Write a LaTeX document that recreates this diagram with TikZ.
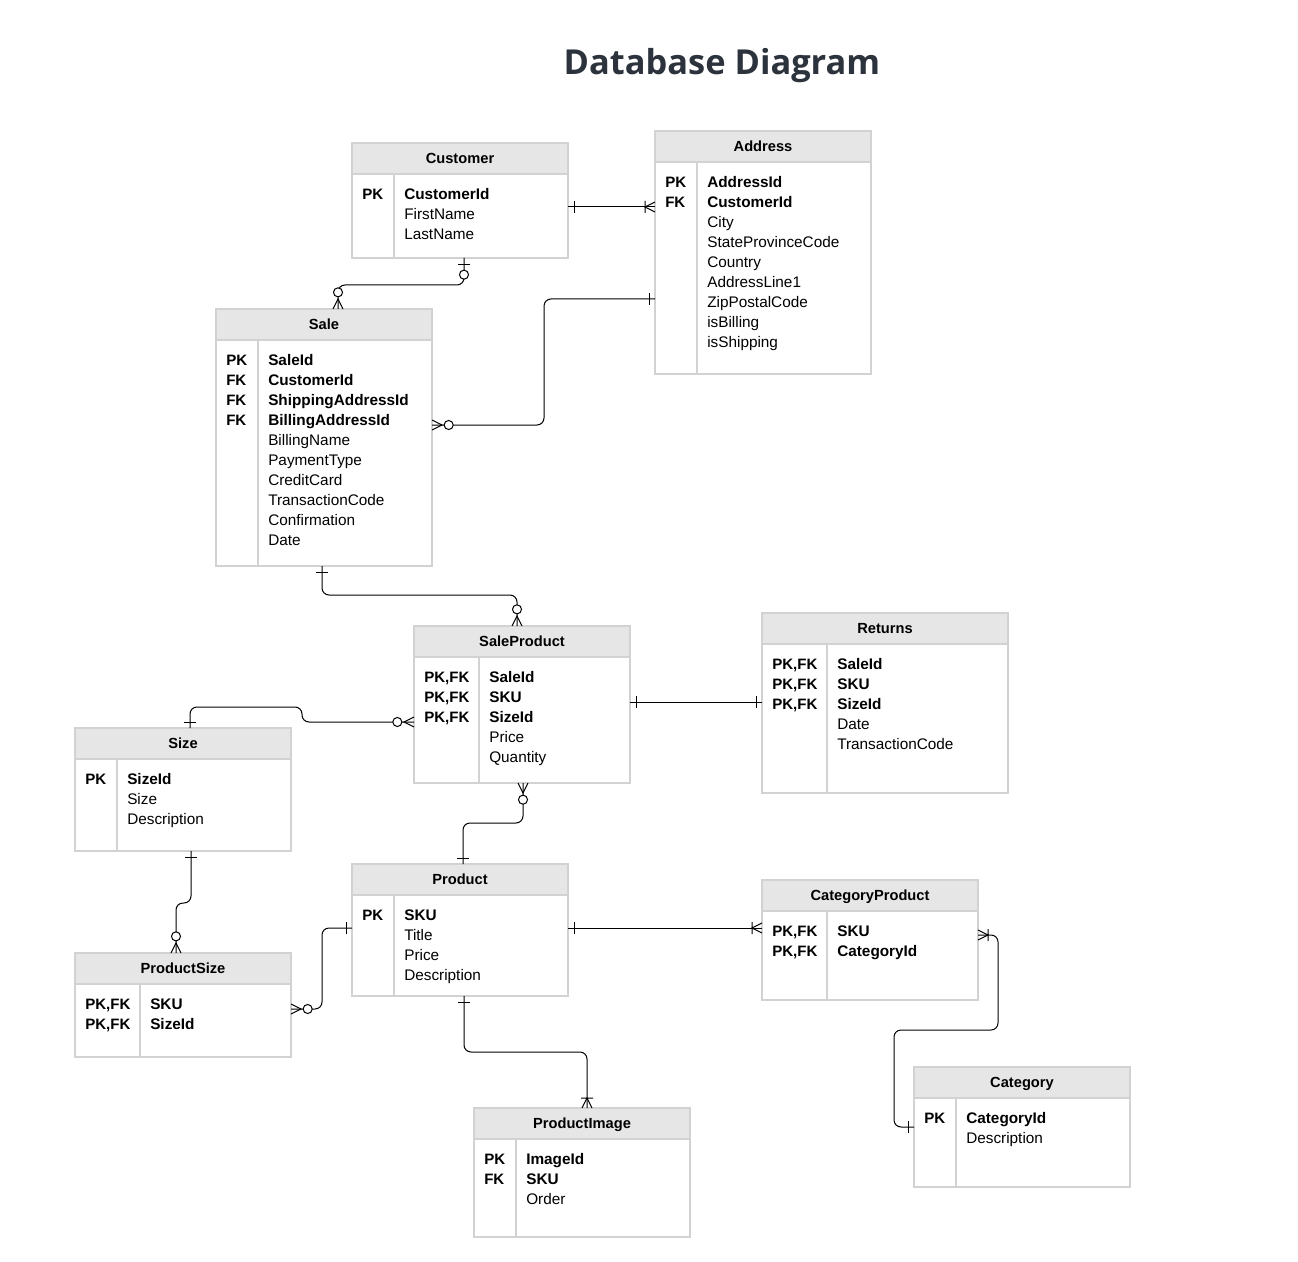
\documentclass[tikz,border=0pt]{standalone}
\usepackage{fontspec}
\setmainfont{Liberation Sans}
\newfontfamily\titlefont{Open Sans}
\usetikzlibrary{calc}
\definecolor{entgray}{HTML}{D2D2D2}
\definecolor{headgray}{HTML}{E6E6E6}
\definecolor{titleblue}{HTML}{2D333D}

% crow's foot ends
\pgfdeclarearrow{
  name = erone,
  setup code = {
    \pgfarrowssettipend{0pt}
    \pgfarrowssetlineend{0pt}
    \pgfarrowssetbackend{-5pt}
    \pgfarrowsupperhullpoint{0pt}{4.5pt}
    \pgfarrowsupperhullpoint{-5pt}{4.5pt}
  },
  drawing code = {
    \pgfsetlinewidth{0.75pt}
    \pgfpathmoveto{\pgfpoint{-4.5pt}{-4.5pt}}
    \pgfpathlineto{\pgfpoint{-4.5pt}{4.5pt}}
    \pgfusepathqstroke
  }
}
\pgfdeclarearrow{
  name = eromany,
  setup code = {
    \pgfarrowssettipend{0pt}
    \pgfarrowssetlineend{0pt}
    \pgfarrowssetbackend{-8pt}
    \pgfarrowsupperhullpoint{0pt}{4.5pt}
    \pgfarrowsupperhullpoint{-8pt}{4.5pt}
  },
  drawing code = {
    \pgfsetlinewidth{0.75pt}
    \pgfpathmoveto{\pgfpoint{0pt}{3.75pt}}
    \pgfpathlineto{\pgfpoint{-7.5pt}{0pt}}
    \pgfpathlineto{\pgfpoint{0pt}{-3.75pt}}
    \pgfpathmoveto{\pgfpoint{-7.5pt}{4.5pt}}
    \pgfpathlineto{\pgfpoint{-7.5pt}{-4.5pt}}
    \pgfusepathqstroke
  }
}
\pgfdeclarearrow{
  name = erzmany,
  setup code = {
    \pgfarrowssettipend{0pt}
    \pgfarrowssetlineend{0pt}
    \pgfarrowssetbackend{-16pt}
    \pgfarrowsupperhullpoint{0pt}{4pt}
    \pgfarrowsupperhullpoint{-16pt}{4pt}
  },
  drawing code = {
    \pgfsetlinewidth{0.75pt}
    \pgfpathmoveto{\pgfpoint{0pt}{3.75pt}}
    \pgfpathlineto{\pgfpoint{-7.5pt}{0pt}}
    \pgfpathlineto{\pgfpoint{0pt}{-3.75pt}}
    \pgfusepathqstroke
    \pgfpathcircle{\pgfpoint{-12.5pt}{0pt}}{3.4pt}
    \pgfsetfillcolor{white}
    \pgfusepathqfillstroke
  }
}
\pgfdeclarearrow{
  name = erzone,
  setup code = {
    \pgfarrowssettipend{0pt}
    \pgfarrowssetlineend{0pt}
    \pgfarrowssetbackend{-16pt}
    \pgfarrowsupperhullpoint{0pt}{4.5pt}
    \pgfarrowsupperhullpoint{-16pt}{4.5pt}
  },
  drawing code = {
    \pgfsetlinewidth{0.75pt}
    \pgfpathmoveto{\pgfpoint{-5.25pt}{-4.5pt}}
    \pgfpathlineto{\pgfpoint{-5.25pt}{4.5pt}}
    \pgfusepathqstroke
    \pgfpathcircle{\pgfpoint{-12.5pt}{0pt}}{3.4pt}
    \pgfsetfillcolor{white}
    \pgfusepathqfillstroke
  }
}

\tikzset{
    entbox/.style={
        draw=entgray, line width=0.9pt, fill=white,
        anchor=north west, inner sep=0pt, outer sep=0pt
    },
    enthead/.style={
        draw=entgray, line width=0.9pt, fill=headgray,
        anchor=north west, minimum height=23.25pt,
        inner sep=0pt, outer sep=0pt, text height=7.9pt, text depth=0pt,
        font=\fontsize{11}{13}\selectfont\bfseries
    },
    entrule/.style={draw=entgray, line width=0.9pt},
    entkey/.style={anchor=base west, inner sep=0pt, font=\fontsize{11.3}{15}\selectfont\bfseries},
    entfield/.style={anchor=base west, inner sep=0pt, font=\fontsize{11.5}{15}\selectfont},
    relation/.style={line width=0.75pt, rounded corners=5.25pt},
    diagtitle/.style={font=\titlefont\bfseries\fontsize{25.8}{30}\selectfont, text=titleblue}
}

% width, name, corner, height, key column, rows
\newcommand\entity[6][216]{%
    \node[entbox, minimum width=#1*0.75pt, minimum height=#4*0.75pt] (#2) at #3 {};
    \node[enthead, minimum width=#1*0.75pt] (#2-head) at (#2.north west) {#2};
    \draw[entrule] ($(#2-head.south west)+(#5,0)$) -- ($(#2.south west)+(#5,0)$);
    \foreach \key/\field [count=\i] in {#6} {
        \node[entkey] (#2-k\i) at ($(#2-head.south west)+(10,{5.5+20*\i})$) {\key};
        \node[entfield] (#2-f\i) at ($(#2-head.south west)+({#5+10},{5.5+20*\i})$) {\field};
    }
}

\begin{document}
\begin{tikzpicture}[x=0.75pt, y=-0.75pt]

	\path[use as bounding box, fill=white] (0,0) rectangle (1298,1262);
	\node[diagtitle] (title) at (722,66) {Database Diagram};

	\entity{Customer}{(352,143)}{115}{42}{PK/\textbf{CustomerId}, /FirstName, /LastName}
	\entity{Address}{(655,131)}{243}{42}{PK/\textbf{AddressId}, FK/\textbf{CustomerId}, /City,
		/StateProvinceCode, /Country, /AddressLine1, /ZipPostalCode, /isBilling, /isShipping}
	\entity{Sale}{(216,309)}{257}{42}{PK/\textbf{SaleId}, FK/\textbf{CustomerId},
		FK/\textbf{ShippingAddressId}, FK/\textbf{BillingAddressId}, /BillingName, /PaymentType,
		/CreditCard, /TransactionCode, /Confirmation, /Date}
	\entity{SaleProduct}{(414,626)}{157}{65}{{PK,FK}/\textbf{SaleId}, {PK,FK}/\textbf{SKU},
		{PK,FK}/\textbf{SizeId}, /Price, /Quantity}
	\entity[246]{Returns}{(762,613)}{180}{65}{{PK,FK}/\textbf{SaleId}, {PK,FK}/\textbf{SKU},
		{PK,FK}/\textbf{SizeId}, /Date, /TransactionCode}
	\entity{Size}{(75,728)}{123}{42}{PK/\textbf{SizeId}, /Size, /Description}
	\entity{Product}{(352,864)}{132}{42}{PK/\textbf{SKU}, /Title, /Price, /Description}
	\entity{CategoryProduct}{(762,880)}{120}{65}{{PK,FK}/\textbf{SKU}, {PK,FK}/\textbf{CategoryId}}
	\entity{ProductSize}{(75,953)}{104}{65}{{PK,FK}/\textbf{SKU}, {PK,FK}/\textbf{SizeId}}
	\entity{Category}{(914,1067)}{120}{42}{PK/\textbf{CategoryId}, /Description}
	\entity{ProductImage}{(474,1108)}{129}{42}{PK/\textbf{ImageId}, FK/\textbf{SKU}, /Order}

	% relations
	\draw[relation, erone-eromany] ($(Customer.north east)+(0,64)$) -- ($(Address.north west)+(0,76)$);
	\draw[relation, erzone-erzmany] ($(Customer.south west)+(112,0)$) -- ++(0,27) -| ($(Sale.north west)+(122,0)$);
	\draw[relation, erone-erzmany] ($(Address.north west)+(0,168)$) -- ++(-111,0) |- ($(Sale.north east)+(0,116)$);
	\draw[relation, erone-erzmany] ($(Sale.south west)+(106,0)$) -- ++(0,29) -| ($(SaleProduct.north west)+(103,0)$);
	\draw[relation, erone-erone] ($(SaleProduct.north east)+(0,76)$) -- ($(Returns.north west)+(0,89)$);
	\draw[relation, erzmany-erone] ($(SaleProduct.north west)+(0,96)$) -- ++(-112,0) -- ++(0,-15) -| ($(Size.north west)+(115,0)$);
	\draw[relation, erzmany-erone] ($(SaleProduct.south west)+(109,0)$) -- ++(0,40) -| ($(Product.north west)+(111,0)$);
	\draw[relation, erone-erzmany] ($(Size.south west)+(116,0)$) -- ++(0,52) -| ($(ProductSize.north west)+(101,0)$);
	\draw[relation, erone-erzmany] ($(Product.north west)+(0,64)$) -- ++(-30,0) |- ($(ProductSize.north east)+(0,56)$);
	\draw[relation, erone-eromany] ($(Product.north east)+(0,64)$) -- ($(CategoryProduct.north west)+(0,48)$);
	\draw[relation, erone-eromany] ($(Product.south west)+(112,0)$) -- ++(0,56) -| ($(ProductImage.north west)+(113,0)$);
	\draw[relation, eromany-erone] ($(CategoryProduct.north east)+(0,55)$) -- ++(20,0) -- ++(0,95) -- ++(-104,0) |- ($(Category.north west)+(0,60)$);
\end{tikzpicture}
\end{document}
